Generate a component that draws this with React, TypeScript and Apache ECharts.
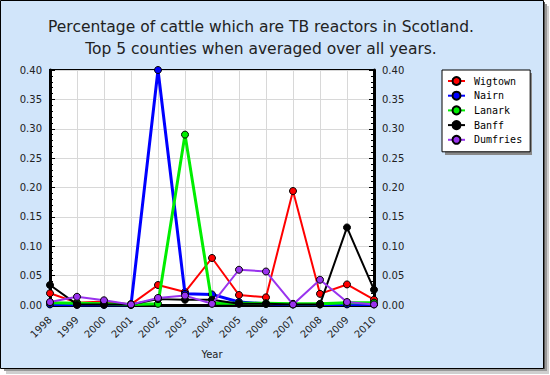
import React, { useEffect, useRef } from "react";
import * as echarts from "echarts";

const years = ["1998","1999","2000","2001","2002","2003","2004","2005","2006","2007","2008","2009","2010"];
const wigtown = [0.020, 0.004, 0.006, 0.001, 0.034, 0.022, 0.080, 0.017, 0.013, 0.194, 0.019, 0.035, 0.009];
const nairn = [0.001, 0.000, 0.000, 0.000, 0.400, 0.019, 0.018, 0.005, 0.002, 0.001, 0.001, 0.001, 0.001];
const lanark = [0.004, 0.003, 0.002, 0.001, 0.002, 0.290, 0.003, 0.003, 0.003, 0.002, 0.002, 0.004, 0.004];
const banff = [0.034, 0.001, 0.001, 0.001, 0.010, 0.009, 0.009, 0.002, 0.002, 0.001, 0.001, 0.132, 0.026];
const dumfries = [0.005, 0.014, 0.008, 0.001, 0.012, 0.016, 0.002, 0.060, 0.057, 0.001, 0.043, 0.005, 0.001];

const seriesNames = ["Wigtown", "Nairn", "Lanark", "Banff", "Dumfries"];
const seriesData = [wigtown, nairn, lanark, banff, dumfries];
const seriesColors = ["#ff0000", "#0000ff", "#00ee00", "#000000", "#9933ee"];
const seriesWidths = [2, 3, 3, 2, 2];

const titleText = "Percentage of cattle which are TB reactors in Scotland.\nTop 5 counties when averaged over all years.";

export default function App() {
  const ref = useRef<HTMLDivElement>(null);
  useEffect(() => {
    document.body.style.margin = "0";
    const chart = echarts.init(ref.current!, null, { renderer: "svg" });
    const font = "DejaVu Sans";
    const yAxisCommon = {
      type: "value",
      min: 0,
      max: 0.4,
      interval: 0.05,
      axisLine: { show: true, lineStyle: { color: "#000", width: 3 } },
      axisTick: { show: true, inside: true, length: 5, lineStyle: { color: "#000", width: 1 } },
      minorTick: { show: true, splitNumber: 5, length: 3, lineStyle: { color: "#000", width: 1 } },
      axisLabel: {
        fontFamily: font,
        fontSize: 10,
        color: "#222",
        margin: 8,
        formatter: (v: number) => v.toFixed(2),
      },
    };
    chart.setOption({
      animation: false,
      backgroundColor: "transparent",
      graphic: [
        { type: "rect", z: -10, shape: { x: 6, y: 6, width: 543, height: 368 }, style: { fill: "#cfcfcf" } },
        { type: "rect", z: -9, shape: { x: 4, y: 4, width: 543, height: 367 }, style: { fill: "#999999" } },
        { type: "rect", z: -8, shape: { x: 2, y: 2, width: 543, height: 367 }, style: { fill: "#555555" } },
        { type: "rect", z: -7, shape: { x: 0.5, y: 0.5, width: 543, height: 368 }, style: { fill: "#d1e5fa", stroke: "#000", lineWidth: 1 } },
        { type: "rect", z: 1, shape: { x: 445, y: 73, width: 87, height: 82 }, style: { fill: "#888888" } },
      ],
      title: {
        text: titleText,
        left: 256,
        top: 11,
        textAlign: "center",
        textStyle: { fontFamily: font, fontSize: 15.5, fontWeight: "normal", color: "#222", lineHeight: 22 },
      },
      legend: {
        orient: "vertical",
        left: 442,
        top: 70,
        z: 5,
        padding: [6, 8, 7, 5],
        itemWidth: 17,
        itemHeight: 10,
        itemGap: 4.7,
        backgroundColor: "#fff",
        borderColor: "#000",
        borderWidth: 1,
        textStyle: { fontFamily: "DejaVu Sans Mono", fontSize: 10, color: "#000", padding: [0, 0, 0, 4] },
        data: seriesNames,
      },
      grid: {
        left: 50,
        right: 176,
        top: 70,
        bottom: 70,
        show: true,
        backgroundColor: "#fff",
        borderColor: "#000",
        borderWidth: 2,
      },
      xAxis: {
        type: "category",
        data: years,
        boundaryGap: false,
        name: "Year",
        nameLocation: "middle",
        nameGap: 44,
        nameTextStyle: { fontFamily: font, fontSize: 10, color: "#222" },
        axisLine: { show: true, lineStyle: { color: "#000", width: 3 } },
        axisTick: { show: false },
        splitLine: { show: true, lineStyle: { color: "#d8d8d8", width: 1 } },
        axisLabel: { rotate: 45, margin: 13, fontFamily: font, fontSize: 10, color: "#222", interval: 0 },
      },
      yAxis: [
        { ...yAxisCommon, position: "left", splitLine: { show: true, lineStyle: { color: "#d8d8d8", width: 1 } } },
        { ...yAxisCommon, position: "right", splitLine: { show: false } },
      ],
      series: seriesNames.map((name, i) => ({
        name,
        type: "line",
        data: seriesData[i],
        symbol: "circle",
        symbolSize: 7,
        showAllSymbol: true,
        color: seriesColors[i],
        lineStyle: { color: seriesColors[i], width: seriesWidths[i] },
        itemStyle: { color: seriesColors[i], borderColor: "#000", borderWidth: 1 },
        z: 2 + i,
      })),
    });
    return () => chart.dispose();
  }, []);
  return <div ref={ref} style={{ width: 550, height: 375, position: "absolute", left: 0, top: 0 }} />;
}
